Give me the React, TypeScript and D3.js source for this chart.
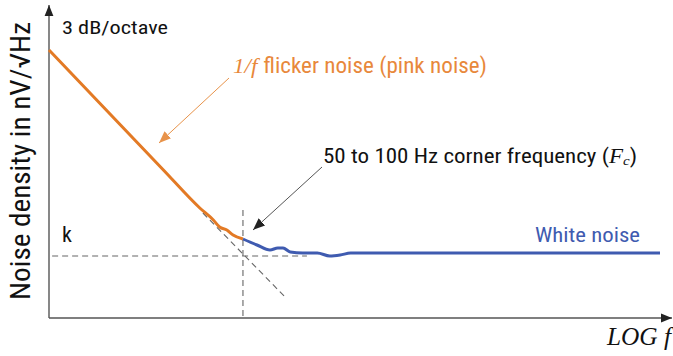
import React, { useEffect, useRef } from 'react';
import * as d3 from 'd3';

// log10(f) positions and density (arbitrary dB-like units)
const flickerLogF = [0, 1.1, 1.45, 1.58, 1.64, 1.71, 1.77, 1.865];
const flickerDensity = [26.8, 14.8, 11.0, 9.8, 9.1, 8.8, 8.3, 7.9];

const whiteLogF = [1.865, 2.0, 2.125, 2.2, 2.25, 2.32, 2.44, 2.58, 2.7, 2.8, 2.9, 5.875];
const whiteDensity = [7.9, 7.3, 6.8, 7.0, 7.0, 6.6, 6.5, 6.5, 6.2, 6.3, 6.5, 6.5];

const cornerLogF = 1.865;
const floorK = 6.2;
const asymptoteLogF = [1.48, 2.27];
const asymptoteDensity = [10.5, 2.1];

const W = 673;
const H = 356;
const SANS = "'Liberation Sans Narrow', 'Roboto Condensed', 'Liberation Sans', sans-serif";
const SERIF = "'Liberation Serif', 'DejaVu Serif', serif";
const ORANGE = '#e37a25';
const BLUE = '#3f5bb0';

const App = () => {
  const ref = useRef<SVGSVGElement>(null);

  useEffect(() => {
    const svg = d3.select(ref.current);
    svg.selectAll('*').remove();

    const x = d3.scaleLinear().domain([0, 6]).range([49, 673]);
    const y = d3.scaleLinear().domain([0, 31.3]).range([318, 5]);

    const defs = svg.append('defs');
    const marker = (id: string, color: string, size: number) => {
      defs.append('marker')
        .attr('id', id)
        .attr('viewBox', '0 0 10 10')
        .attr('refX', 10).attr('refY', 5)
        .attr('markerWidth', size).attr('markerHeight', size)
        .attr('markerUnits', 'userSpaceOnUse')
        .attr('orient', 'auto')
        .append('path')
        .attr('d', 'M0,1 L10,5 L0,9 Z')
        .attr('fill', color);
    };
    marker('axisHead', '#222', 11);
    marker('orangeHead', '#e8934a', 12);
    marker('greyHead', '#222', 12);

    // axes
    svg.append('line')
      .attr('x1', x(0)).attr('y1', y(0))
      .attr('x2', x(0)).attr('y2', 5)
      .attr('stroke', '#555').attr('stroke-width', 1.4)
      .attr('marker-end', 'url(#axisHead)');
    svg.append('line')
      .attr('x1', x(0)).attr('y1', y(0))
      .attr('x2', 672).attr('y2', y(0))
      .attr('stroke', '#555').attr('stroke-width', 1.4)
      .attr('marker-end', 'url(#axisHead)');

    // dashed guides
    const dash = (x1: number, y1: number, x2: number, y2: number) =>
      svg.append('line')
        .attr('x1', x1).attr('y1', y1).attr('x2', x2).attr('y2', y2)
        .attr('stroke', '#666').attr('stroke-width', 1.1)
        .attr('stroke-dasharray', '6,4');
    dash(x(0.03), y(floorK), x(2.48), y(floorK));
    dash(x(cornerLogF), y(10.8), x(cornerLogF), y(0));
    dash(x(asymptoteLogF[0]), y(asymptoteDensity[0]), x(asymptoteLogF[1]), y(asymptoteDensity[1]));

    const line = d3.line<number>()
      .x(d => x(d))
      .curve(d3.curveMonotoneX);

    svg.append('path')
      .attr('d', line.y((d, i) => y(flickerDensity[i]))(flickerLogF))
      .attr('fill', 'none')
      .attr('stroke', ORANGE)
      .attr('stroke-width', 3);

    svg.append('path')
      .attr('d', line.y((d, i) => y(whiteDensity[i]))(whiteLogF))
      .attr('fill', 'none')
      .attr('stroke', BLUE)
      .attr('stroke-width', 3);

    // annotation arrows
    svg.append('line')
      .attr('x1', 229).attr('y1', 78).attr('x2', 159).attr('y2', 143)
      .attr('stroke', '#e8934a').attr('stroke-width', 1)
      .attr('marker-end', 'url(#orangeHead)');
    svg.append('line')
      .attr('x1', 322).attr('y1', 167).attr('x2', 253).attr('y2', 230)
      .attr('stroke', '#555').attr('stroke-width', 1)
      .attr('marker-end', 'url(#greyHead)');

    // texts
    svg.append('text')
      .attr('transform', 'translate(30,161) rotate(-90)')
      .attr('text-anchor', 'middle')
      .attr('font-family', SANS).attr('font-size', 28)
      .attr('fill', '#111')
      .attr('textLength', 278).attr('lengthAdjust', 'spacingAndGlyphs')
      .text('Noise density in nV/√Hz');

    svg.append('text')
      .attr('x', 62).attr('y', 34)
      .attr('font-family', SANS).attr('font-size', 18)
      .attr('fill', '#111')
      .attr('textLength', 106).attr('lengthAdjust', 'spacingAndGlyphs')
      .text('3 dB/octave');

    svg.append('text')
      .attr('x', 62).attr('y', 242)
      .attr('font-family', SANS).attr('font-size', 22)
      .attr('fill', '#111')
      .text('k');

    const flick = svg.append('text')
      .attr('x', 233).attr('y', 73)
      .attr('font-size', 22)
      .attr('fill', '#e8883b')
      .attr('textLength', 254).attr('lengthAdjust', 'spacingAndGlyphs');
    flick.append('tspan').attr('font-family', SERIF).attr('font-style', 'italic').text('1/f ');
    flick.append('tspan').attr('font-family', SANS).text('flicker noise (pink noise)');

    const corner = svg.append('text')
      .attr('x', 323).attr('y', 163)
      .attr('font-size', 20)
      .attr('fill', '#111')
      .attr('textLength', 314).attr('lengthAdjust', 'spacingAndGlyphs');
    corner.append('tspan').attr('font-family', SANS).text('50 to 100 Hz corner frequency (');
    corner.append('tspan').attr('font-family', SERIF).attr('font-style', 'italic').text('F');
    corner.append('tspan').attr('font-family', SERIF).attr('font-style', 'italic')
      .attr('font-size', 13).attr('dy', 2).text('c');
    corner.append('tspan').attr('font-family', SANS).attr('dy', -2).text(')');

    svg.append('text')
      .attr('x', 535).attr('y', 242)
      .attr('font-family', SANS).attr('font-size', 20)
      .attr('fill', BLUE)
      .attr('textLength', 105).attr('lengthAdjust', 'spacingAndGlyphs')
      .text('White noise');

    svg.append('text')
      .attr('x', 607).attr('y', 345)
      .attr('font-family', SERIF).attr('font-style', 'italic').attr('font-size', 25)
      .attr('fill', '#111')
      .attr('textLength', 64).attr('lengthAdjust', 'spacingAndGlyphs')
      .text('LOG f');
  }, []);

  return (
    <svg
      ref={ref}
      width={W}
      height={H}
      style={{ position: 'absolute', left: 0, top: 0, background: '#fff' }}
    />
  );
};

export default App;
